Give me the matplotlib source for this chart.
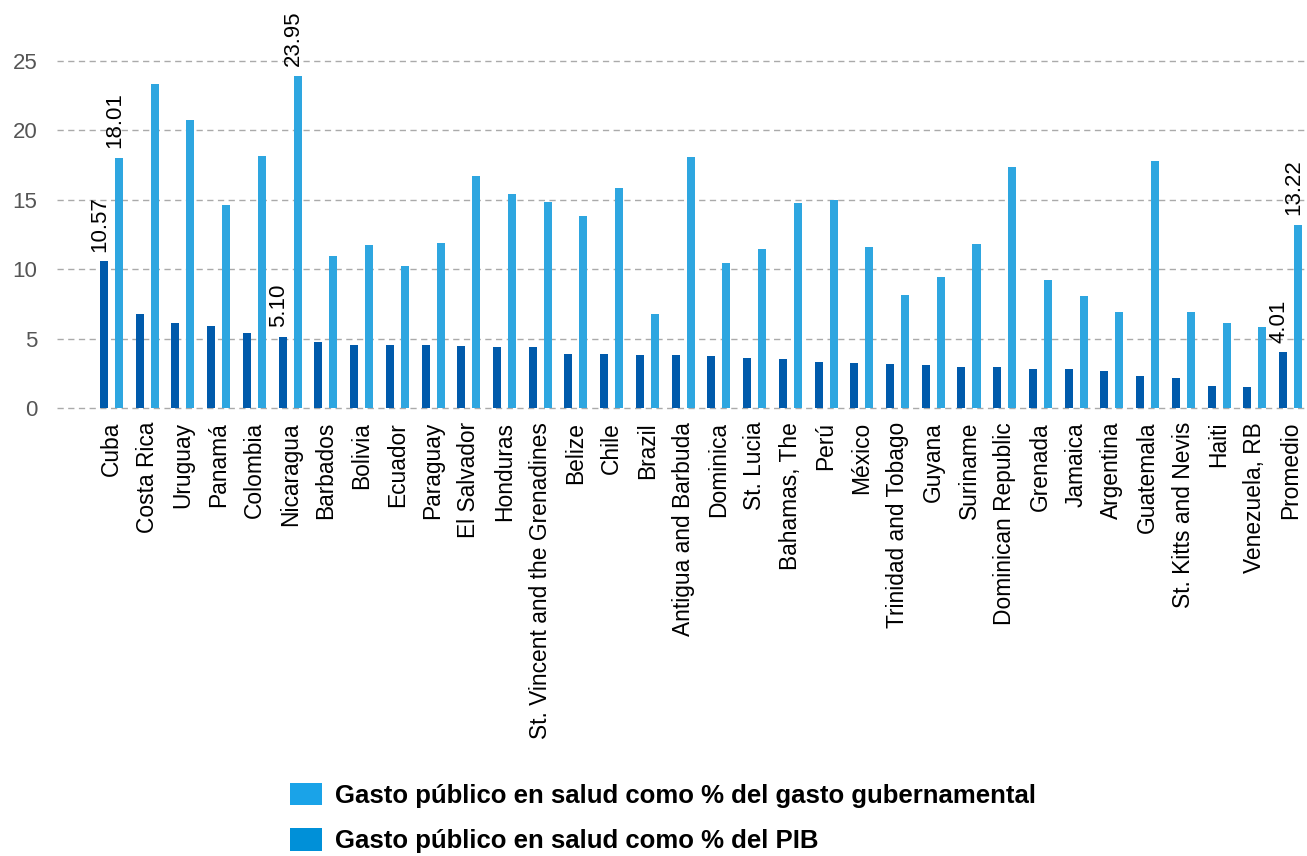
import numpy as np
import matplotlib
matplotlib.use("Agg")
import matplotlib.pyplot as plt
from matplotlib.patches import Patch

countries = [
    "Cuba", "Costa Rica", "Uruguay", "Panamá", "Colombia", "Nicaragua",
    "Barbados", "Bolivia", "Ecuador", "Paraguay", "El Salvador", "Honduras",
    "St. Vincent and the Grenadines", "Belize", "Chile", "Brazil",
    "Antigua and Barbuda", "Dominica", "St. Lucia", "Bahamas, The", "Perú",
    "México", "Trinidad and Tobago", "Guyana", "Suriname",
    "Dominican Republic", "Grenada", "Jamaica", "Argentina", "Guatemala",
    "St. Kitts and Nevis", "Haiti", "Venezuela, RB", "Promedio",
]

# public health spending as % of GDP
pct_pib = [
    10.57, 6.77, 6.12, 5.91, 5.40, 5.10, 4.76, 4.54, 4.54, 4.54, 4.47, 4.39,
    4.39, 3.89, 3.89, 3.82, 3.82, 3.75, 3.60, 3.53, 3.31, 3.24, 3.17, 3.10,
    2.95, 2.95, 2.81, 2.81, 2.67, 2.31, 2.16, 1.59, 1.51, 4.01,
]

# public health spending as % of government spending
pct_gasto = [
    18.01, 23.34, 20.75, 14.63, 18.16, 23.95, 10.95, 11.74, 10.23, 11.89,
    16.71, 15.42, 14.84, 13.83, 15.85, 6.77, 18.08, 10.45, 11.46, 14.77,
    14.99, 11.60, 8.14, 9.44, 11.82, 17.36, 9.22, 8.07, 6.92, 17.80, 6.92,
    6.12, 5.84, 13.22,
]

# bars that carry a value label: (series, index)
labelled = [("pib", 0), ("gasto", 0), ("pib", 5), ("gasto", 5),
            ("pib", 33), ("gasto", 33)]

yticks = [0, 5, 10, 15, 20, 25]

legend_labels = [
    "Gasto público en salud como % del gasto gubernamental",
    "Gasto público en salud como % del PIB",
]

DARK = "#005aab"
LIGHT = "#2ea6e0"

plt.rcParams["font.family"] = ["Liberation Sans", "DejaVu Sans"]

fig = plt.figure(figsize=(13.07, 8.56), dpi=100)
ax = fig.add_axes([57 / 1307, 1 - 408 / 856, 1 - 57 / 1307, 347 / 856])

x = np.arange(len(countries))
off = 0.21
w = 0.224
ax.bar(x - off, pct_pib, width=w, color=DARK, zorder=3)
ax.bar(x + off, pct_gasto, width=w, color=LIGHT, zorder=3)

series = {"pib": (x - off, pct_pib), "gasto": (x + off, pct_gasto)}
for name, i in labelled:
    xs, vals = series[name]
    ax.annotate(f"{vals[i]:.2f}", xy=(xs[i], vals[i]), xytext=(-3, 7),
                textcoords="offset points", rotation=90, ha="center",
                va="bottom", fontsize=16, color="black",
                annotation_clip=False)

ax.set_xlim(-1.525, 33.46)
ax.set_ylim(0, 25)
ax.set_yticks(yticks)
ax.set_yticklabels([str(t) for t in yticks], fontsize=16, color="#555555")
ax.set_xticks(x)
ax.set_xticklabels(countries, rotation=90, fontsize=16.4, ha="center",
                   va="top")
ax.tick_params(axis="both", length=0)
ax.tick_params(axis="x", pad=10)
ax.tick_params(axis="y", pad=14)

for s in ax.spines.values():
    s.set_visible(False)

ax.yaxis.grid(True, color="#aaaaaa", linewidth=1.0,
              linestyle=(0, (4.5, 3.2)), zorder=0)
for gl in ax.get_ygridlines():
    gl.set_clip_on(False)
ax.set_axisbelow(True)

handles = [Patch(facecolor="#1aa3e8", edgecolor="none"),
           Patch(facecolor="#0090d8", edgecolor="none")]
fig.legend(handles, legend_labels, loc="upper left",
           bbox_to_anchor=(290 / 1307, 1 - 783 / 856),
           frameon=False, prop={"weight": "bold", "size": 18.5},
           handlelength=1.25, handleheight=0.95, handletextpad=0.5,
           labelspacing=0.8, borderpad=0, borderaxespad=0)

fig.savefig("out.png", dpi=100)
